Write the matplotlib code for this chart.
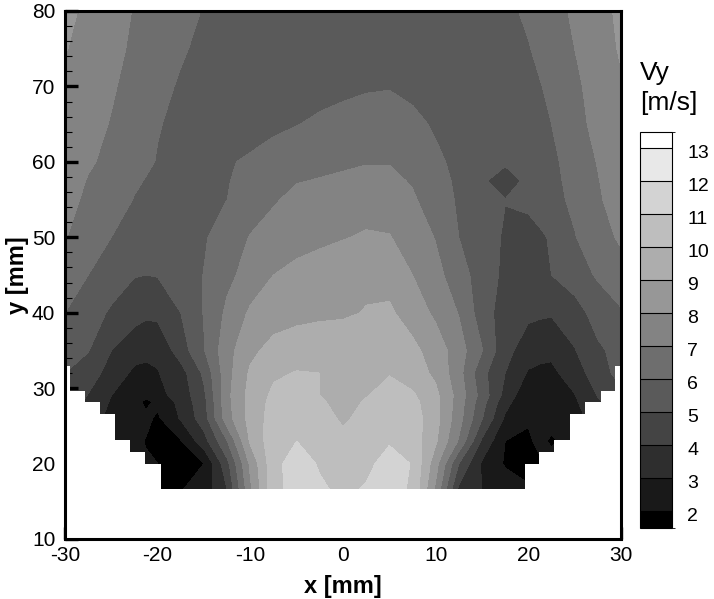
import matplotlib
matplotlib.use('Agg')
import matplotlib.pyplot as plt
from matplotlib.colors import ListedColormap, BoundaryNorm
from matplotlib.transforms import ScaledTranslation
import numpy as np

plt.rcParams['font.family'] = ['Liberation Sans', 'DejaVu Sans']
plt.rcParams['axes.unicode_minus'] = False

x_mm = [-30, -27.5, -25, -22.5, -21.25, -20, -17.5, -15, -12.5, -10, -7.5, -5, -2.5, 0,
        2.5, 5, 7.5, 10, 12.5, 15, 17.5, 20, 21.25, 22.5, 25, 27.5, 30]
y_mm = [16.5, 20, 23, 26, 28.2, 29, 32, 35, 40, 45, 50, 55, 57.5, 60, 65, 70, 75, 80]

# Vy, one row per y value
vy = [
    [4.1, 3.2, 2.5, 2.2, 2.0, 1.8, 1.95, 2.45, 4.0, 7.8, 10.7, 11.4, 11.15, 10.8, 11.1, 11.4, 10.85, 7.8, 3.75, 3.0, 2.5, 2.1, 2.15, 2.2, 2.6, 3.3, 4.3],
    [4.2, 3.2, 2.5, 2.2, 2.1, 2.0, 1.6, 2.0, 4.7, 8.2, 10.7, 11.45, 10.9, 10.6, 10.75, 11.4, 10.95, 8.4, 5.0, 2.85, 1.9, 1.7, 1.85, 2.4, 2.5, 3.3, 4.3],
    [4.3, 3.3, 2.5, 2.2, 1.95, 1.8, 1.95, 3.6, 6.0, 9.15, 10.6, 11.0, 10.6, 10.25, 10.6, 10.9, 10.55, 9.15, 6.9, 3.85, 2.0, 1.85, 2.25, 1.85, 2.5, 3.4, 4.4],
    [4.5, 3.5, 2.7, 2.4, 2.2, 1.85, 3.1, 4.55, 7.6, 9.35, 10.45, 10.7, 10.4, 9.85, 10.3, 10.65, 10.5, 9.35, 7.4, 5.05, 2.85, 2.1, 2.25, 2.4, 2.6, 3.5, 4.5],
    [4.7, 3.8, 2.9, 2.3, 1.8, 2.2, 3.3, 4.7, 7.7, 9.35, 10.3, 10.45, 10.15, 9.6, 10.1, 10.45, 10.3, 9.3, 7.5, 5.4, 3.35, 2.15, 2.3, 2.45, 2.85, 3.85, 4.7],
    [4.8, 3.95, 3.0, 2.7, 2.25, 2.7, 3.4, 4.8, 7.75, 9.35, 10.2, 10.3, 10.0, 9.45, 9.95, 10.35, 10.15, 9.25, 7.6, 5.6, 3.65, 2.2, 2.35, 2.5, 2.95, 4.05, 4.8],
    [5.0, 4.5, 3.6, 2.8, 2.8, 2.95, 3.6, 5.2, 7.65, 9.15, 9.85, 10.05, 10.0, 9.6, 9.9, 9.95, 9.5, 8.8, 7.35, 5.3, 4.0, 2.9, 2.8, 2.8, 3.45, 4.6, 5.3],
    [5.5, 5.05, 4.0, 3.4, 3.2, 3.2, 4.5, 5.95, 7.65, 8.75, 9.35, 9.55, 9.65, 9.7, 9.75, 9.7, 9.25, 8.55, 7.45, 6.05, 4.3, 3.5, 3.3, 3.2, 3.95, 4.8, 5.4],
    [6.0, 5.5, 4.85, 4.35, 4.2, 4.25, 5.0, 6.05, 7.2, 8.15, 8.5, 8.7, 8.8, 8.85, 9.05, 9.15, 8.55, 7.8, 6.95, 5.5, 4.5, 4.2, 4.15, 4.1, 4.5, 5.5, 5.9],
    [6.45, 6.0, 5.55, 5.05, 5.0, 5.05, 5.4, 6.03, 6.75, 7.4, 8.0, 8.3, 8.45, 8.6, 8.8, 8.65, 8.0, 7.3, 6.45, 5.5, 4.8, 4.6, 4.8, 5.0, 5.6, 6.1, 6.6],
    [7.05, 6.5, 6.0, 5.65, 5.5, 5.45, 5.55, 5.9, 6.5, 7.05, 7.4, 7.6, 7.8, 7.95, 8.1, 8.05, 7.55, 6.95, 6.0, 5.4, 4.9, 4.6, 4.85, 5.1, 5.95, 6.6, 7.15],
    [7.35, 6.8, 6.55, 5.95, 5.8, 5.65, 5.55, 5.7, 6.0, 6.5, 6.9, 7.25, 7.4, 7.5, 7.6, 7.5, 7.15, 6.4, 5.9, 5.5, 5.02, 5.25, 5.45, 5.7, 6.2, 6.85, 7.55],
    [7.4, 6.95, 6.7, 6.15, 5.95, 5.8, 5.65, 5.65, 5.95, 6.3, 6.65, 6.95, 7.05, 7.15, 7.25, 7.25, 6.9, 6.3, 5.85, 5.2, 4.4, 5.3, 5.5, 5.75, 6.3, 6.95, 7.6],
    [7.45, 7.1, 6.8, 6.35, 6.15, 5.95, 5.75, 5.65, 5.9, 6.15, 6.4, 6.6, 6.75, 6.85, 6.95, 6.95, 6.6, 6.15, 5.8, 5.55, 5.19, 5.3, 5.55, 5.8, 6.4, 7.05, 7.7],
    [7.55, 7.3, 6.95, 6.45, 6.25, 6.05, 5.8, 5.6, 5.5, 5.55, 5.8, 5.97, 6.15, 6.3, 6.45, 6.45, 6.2, 5.9, 5.65, 5.5, 5.45, 5.6, 5.8, 6.0, 6.65, 7.3, 7.8],
    [7.75, 7.45, 7.1, 6.7, 6.45, 6.25, 5.9, 5.65, 5.5, 5.4, 5.45, 5.6, 5.7, 5.8, 5.9, 5.95, 5.8, 5.6, 5.45, 5.4, 5.5, 5.75, 5.95, 6.2, 6.8, 7.4, 7.9],
    [8.05, 7.65, 7.25, 6.85, 6.65, 6.5, 6.1, 5.8, 5.5, 5.4, 5.4, 5.4, 5.4, 5.4, 5.4, 5.4, 5.4, 5.4, 5.4, 5.45, 5.7, 5.95, 6.2, 6.45, 7.0, 7.55, 8.1],
    [8.3, 7.75, 7.35, 6.95, 6.75, 6.6, 6.3, 5.95, 5.7, 5.5, 5.5, 5.5, 5.5, 5.5, 5.5, 5.5, 5.5, 5.5, 5.5, 5.55, 5.8, 6.15, 6.4, 6.65, 7.15, 7.65, 8.2],
]

levels = [1.5, 2, 3, 4, 5, 6, 7, 8, 9, 10, 11, 12, 13, 13.5]
greys = ['#000000', '#191919', '#2e2e2e', '#444444', '#5a5a5a', '#6e6e6e', '#838383',
         '#979797', '#adadad', '#bebebe', '#d3d3d3', '#e8e8e8', '#ffffff']
cbar_ticks = [2, 3, 4, 5, 6, 7, 8, 9, 10, 11, 12, 13]

# lower edge of the measured area (staircase)
floor_x = [-30, -29.5, -27.8, -26.2, -24.6, -23, -21.4, -19.6, 19.6, 21.2, 22.8, 24.5, 26.1, 27.8, 29.4, 30]
floor_y = [33, 29.6, 28.2, 26.6, 23.1, 21.5, 20, 16.6, 20, 21.5, 23.1, 26.6, 28.2, 29.6, 33, 33]

W, H = 714, 599
fig = plt.figure(figsize=(W / 100, H / 100), dpi=100)
ax = fig.add_axes([65 / W, 1 - 539 / H, (621 - 65) / W, (539 - 11) / H])

cmap = ListedColormap(greys)
norm = BoundaryNorm(levels, cmap.N)
cf = ax.contourf(x_mm, y_mm, np.array(vy), levels=levels, cmap=cmap, norm=norm)
ax.fill_between(floor_x, 10, floor_y, step='post', color='white', linewidth=0, zorder=3)

ax.set_xlim(-30, 30)
ax.set_ylim(10, 80)
ax.set_xticks(np.arange(-30, 31, 10))
ax.set_yticks(np.arange(10, 81, 10))
ax.set_xticks(np.arange(-30, 31, 2), minor=True)
ax.set_yticks(np.arange(10, 81, 2), minor=True)
ax.tick_params(which='major', direction='in', length=9, width=2.4, labelsize=15, zorder=5)
ax.tick_params(which='minor', direction='in', length=5, width=0.8, zorder=5)
ax.tick_params(axis='x', which='major', pad=5)
ax.tick_params(axis='y', which='major', pad=7)
for side in ax.spines.values():
    side.set_linewidth(2.2)
    side.set_zorder(6)
ax.set_xlabel('x [mm]', fontsize=17, fontweight='bold', labelpad=7)
ax.set_ylabel('y [mm]', fontsize=17, fontweight='bold', labelpad=2)

cax = fig.add_axes([640 / W, 1 - 528 / H, 32 / W, (528 - 131.7) / H])
cb = fig.colorbar(cf, cax=cax, spacing='proportional', drawedges=True)
cb.dividers.set_color('black')
cb.dividers.set_linewidth(0.8)
cb.outline.set_linewidth(0.8)
cb.set_ticks(cbar_ticks)
cax.tick_params(length=0, labelsize=14, pad=11)
shift = ScaledTranslation(0, -2.5 / 72, fig.dpi_scale_trans)
for lab in cax.get_yticklabels():
    lab.set_transform(lab.get_transform() + shift)

fig.text(640 / W, 1 - 80 / H, 'Vy', fontsize=19, va='baseline', ha='left')
fig.text(640 / W, 1 - 110 / H, '[m/s]', fontsize=19, va='baseline', ha='left')

fig.savefig('out.png', dpi=100)
